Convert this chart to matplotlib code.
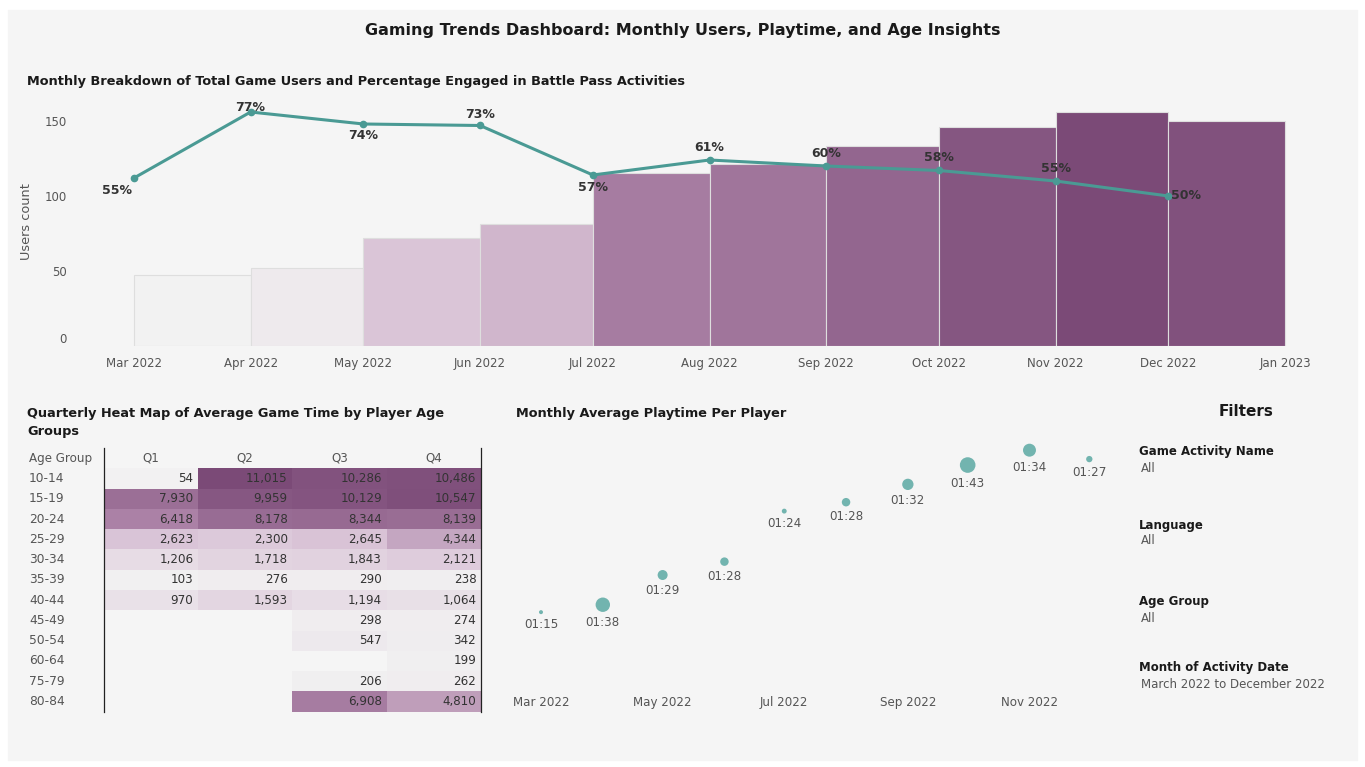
import numpy as np
import matplotlib
matplotlib.use("Agg")
import matplotlib.pyplot as plt
import matplotlib.dates as mdates
from matplotlib.colors import LinearSegmentedColormap, Normalize
from matplotlib.patches import Rectangle
from datetime import date

plt.rcParams["font.family"] = "DejaVu Sans"

W, H = 1365, 767

# ---- data ----
months = [date(2022, m, 1) for m in range(3, 13)]
next_months = [date(2022, m, 1) for m in range(4, 13)] + [date(2023, 1, 1)]
users = [47, 52, 72, 81, 115, 121, 133, 146, 156, 150]
battle_users = [112, 156, 148, 147, 114, 124, 120, 117, 110, 100]
battle_pct = [55, 77, 74, 73, 57, 61, 60, 58, 55, 50]

age_groups = ["10-14", "15-19", "20-24", "25-29", "30-34", "35-39", "40-44",
              "45-49", "50-54", "60-64", "75-79", "80-84"]
quarters = ["Q1", "Q2", "Q3", "Q4"]
nan = np.nan
game_time = [
    [54, 11015, 10286, 10486],
    [7930, 9959, 10129, 10547],
    [6418, 8178, 8344, 8139],
    [2623, 2300, 2645, 4344],
    [1206, 1718, 1843, 2121],
    [103, 276, 290, 238],
    [970, 1593, 1194, 1064],
    [nan, nan, 298, 274],
    [nan, nan, 547, 342],
    [nan, nan, nan, 199],
    [nan, nan, 206, 262],
    [nan, nan, 6908, 4810],
]

playtime_min = [75, 98, 89, 88, 84, 88, 92, 103, 94, 87]
bubble_weight = [4, 52, 25, 18, 6, 18, 32, 61, 42, 10]

filters = [("Game Activity Name", "All"), ("Language", "All"),
           ("Age Group", "All"), ("Month of Activity Date", "March 2022 to December 2022")]

# ---- style ----
cmap = LinearSegmentedColormap.from_list(
    "purp", [(0, "#f2f2f2"), (0.24, "#d9c3d6"), (0.58, "#ab82a6"), (1, "#7b4a77")])
teal = "#4a9a94"
bubble = "#72b4af"
gray_txt = "#555555"
dark_txt = "#1a1a1a"

fig = plt.figure(figsize=(W / 100, H / 100), dpi=100, facecolor="white")
fig.patches.append(Rectangle((8 / W, 1 - 760 / H), 1349 / W, 750 / H,
                             transform=fig.transFigure, color="#f5f5f5", zorder=-10))


def px_axes(x0, y0, x1, y1):
    a = fig.add_axes([x0 / W, 1 - y1 / H, (x1 - x0) / W, (y1 - y0) / H])
    a.set_facecolor("none")
    for s in a.spines.values():
        s.set_visible(False)
    return a


def ptext(x, y, s, **kw):
    fig.text(x / W, 1 - y / H, s, **kw)


ptext(683, 31, "Gaming Trends Dashboard: Monthly Users, Playtime, and Age Insights",
      ha="center", va="center", fontsize=11.5, fontweight="bold", color=dark_txt)
ptext(27, 82, "Monthly Breakdown of Total Game Users and Percentage Engaged in Battle Pass Activities",
      ha="left", va="center", fontsize=9.3, fontweight="bold", color=dark_txt)

# ---- top chart ----
xs = mdates.date2num(months)
widths = mdates.date2num(next_months) - xs
ax1 = px_axes(75, 98, 1300, 346)
ppd = (1285 - 134) / (mdates.date2num(date(2023, 1, 1)) - xs[0])
ax1.set_xlim(xs[0] - (134 - 75) / ppd, xs[0] + (1300 - 134) / ppd)
ax1.set_ylim(0, (346 - 98) / 1.5)

norm = Normalize(min(users), max(users))
ax1.bar(xs, users, width=widths, align="edge", color=cmap(norm(np.array(users))),
        edgecolor="#dedede", linewidth=0.8, zorder=1)
ax1.plot(xs, battle_users, color=teal, lw=2.2, marker="o", ms=4.5, zorder=3)

pct_offsets = [(-12, -9, "center"), (0, 3, "center"), (0, -8, "center"), (0, 8, "center"),
               (0, -9, "center"), (0, 9, "center"), (0, 9, "center"), (0, 9, "center"),
               (0, 9, "center"), (2, 0, "left")]
for xv, yv, p, (dx, dy, ha) in zip(xs, battle_users, battle_pct, pct_offsets):
    ax1.annotate(f"{p}%", (xv, yv), xytext=(dx, dy), textcoords="offset points",
                 ha=ha, va="center", fontsize=9, fontweight="bold", color="#333333", zorder=4)

ax1.xaxis.set_major_locator(mdates.MonthLocator())
ax1.xaxis.set_major_formatter(mdates.DateFormatter("%b %Y"))
ax1.set_yticks([0, 50, 100, 150])
ax1.tick_params(length=0, labelsize=8.5, labelcolor=gray_txt)
ax1.tick_params(axis="x", pad=8)
ax1.tick_params(axis="y", pad=6)
ax1.get_yticklabels()[0].set_va("bottom")
ax1.set_ylabel("Users count", fontsize=9.3, color=gray_txt)
ax1.yaxis.set_label_coords((33 - 75) / 1225, 0.5)

# ---- heat map ----
ptext(27, 413, "Quarterly Heat Map of Average Game Time by Player Age",
      ha="left", va="center", fontsize=9.3, fontweight="bold", color=dark_txt)
ptext(27, 431, "Groups", ha="left", va="center", fontsize=9.3, fontweight="bold", color=dark_txt)

ax2 = px_axes(103.7, 468.3, 481, 711.7)
gt = np.ma.masked_invalid(np.array(game_time, dtype=float))
ax2.pcolormesh(np.arange(5), np.arange(13), gt, cmap=cmap,
               vmin=0, vmax=np.nanmax(np.array(game_time, dtype=float)))
ax2.set_xlim(0, 4)
ax2.set_ylim(12, 0)
ax2.set_xticks([])
ax2.set_yticks([])
for i, row in enumerate(game_time):
    ax2.text(-0.792, i + 0.5, age_groups[i], ha="left", va="center",
             fontsize=8.8, color=gray_txt)
    for j, v in enumerate(row):
        if not np.isnan(v):
            ax2.text(j + 0.95, i + 0.5, f"{int(v):,}", ha="right", va="center",
                     fontsize=8.6, color="#333333")
ax2.text(-0.792, -0.5, "Age Group", ha="left", va="center", fontsize=8.6, color=gray_txt)
for j, q in enumerate(quarters):
    ax2.text(j + 0.5, -0.5, q, ha="center", va="center", fontsize=8.6, color=gray_txt)
for xv in (0, 4):
    ax2.plot([xv, xv], [-1.0, 12], color="#222222", lw=0.9, clip_on=False)

# ---- bubble chart ----
ptext(516, 413, "Monthly Average Playtime Per Player",
      ha="left", va="center", fontsize=9.3, fontweight="bold", color=dark_txt)
ax3 = px_axes(505, 430, 1120, 682)
ppd2 = (1089.3 - 541) / (xs[-1] - xs[0])
ax3.set_xlim(xs[0] - (541 - 505) / ppd2, xs[0] + (1120 - 541) / ppd2)
ax3.set_ylim(0, (682 - 430) / 1.486)
sizes = 2.07 * np.array(bubble_weight)
ax3.scatter(xs, users, s=sizes, color=bubble, edgecolors="none", zorder=2)
for xv, yv, m, w in zip(xs, users, playtime_min, bubble_weight):
    r_pt = np.sqrt(w) / 1.389
    ax3.annotate(f"{m // 60:02d}:{m % 60:02d}", (xv, yv), xytext=(0, -(r_pt + 7.5)),
                 textcoords="offset points", ha="center", va="center",
                 fontsize=8.6, color=gray_txt)
ax3.xaxis.set_major_locator(mdates.MonthLocator(bymonth=[3, 5, 7, 9, 11]))
ax3.xaxis.set_major_formatter(mdates.DateFormatter("%b %Y"))
ax3.set_yticks([])
ax3.tick_params(length=0, labelsize=8.6, labelcolor=gray_txt, pad=10)

# ---- filters ----
ptext(1246, 412, "Filters", ha="center", va="center", fontsize=11, fontweight="bold", color=dark_txt)
for k, (name, val) in enumerate(filters):
    y0 = [452, 525, 602, 668][k]
    ptext(1139, y0, name, ha="left", va="center", fontsize=8.5, fontweight="bold", color=dark_txt)
    ptext(1141, y0 + 16, val, ha="left", va="center", fontsize=8.5, color=gray_txt)

fig.savefig("out.png", dpi=100, facecolor=fig.get_facecolor())
